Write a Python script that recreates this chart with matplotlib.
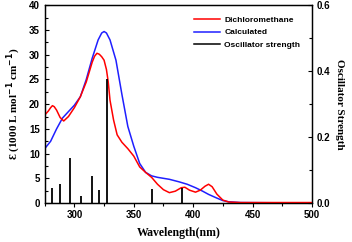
import matplotlib
matplotlib.use("Agg")
import matplotlib.pyplot as plt
from matplotlib.ticker import MultipleLocator

# --- data ---
dcm_wl = [275, 278, 280, 281.5, 283, 285, 288, 291, 295, 300, 305, 310, 315, 317, 319,
          321, 323, 325, 327, 328.5, 330, 333, 336, 340, 345, 350, 355, 360, 365, 370,
          375, 380, 385, 390, 393, 397, 402, 406, 410, 413, 416, 420, 425, 430, 440, 500]
dcm_eps = [17.8, 18.6, 19.3, 19.7, 19.5, 18.8, 17.3, 16.6, 17.5, 19.3, 21.5, 24.5, 28.5, 29.7, 30.3,
           30.1, 29.6, 28.9, 27.0, 24.5, 20.8, 16.8, 13.8, 12.3, 11.0, 9.5, 7.3, 6.2, 5.2, 3.8,
           2.7, 2.1, 2.4, 3.1, 3.2, 2.6, 2.2, 2.6, 3.4, 3.8, 3.3, 1.8, 0.6, 0.2, 0.1, 0.1]

calc_wl = [275, 280, 285, 290, 295, 300, 305, 310, 315, 320, 323, 325, 327, 330, 335, 340,
           345, 350, 355, 360, 365, 370, 380, 388, 395, 402, 408, 413, 420, 425, 430, 440, 500]
calc_eps = [11.0, 12.5, 15.0, 17.2, 18.5, 19.8, 21.5, 25.0, 29.3, 33.0, 34.4, 34.7, 34.4, 33.0, 28.9, 22.0,
            15.5, 11.5, 8.0, 6.2, 5.5, 5.2, 4.8, 4.3, 3.8, 3.1, 2.4, 1.75, 1.0, 0.5, 0.25, 0.1, 0.0]

osc_wl = [281, 288, 296, 305.5, 314.5, 321, 327.5, 365.5, 390.5]
osc_f = [0.046, 0.059, 0.136, 0.020, 0.081, 0.039, 0.377, 0.042, 0.046]

# --- figure ---
fig = plt.figure(figsize=(3.52, 2.42), dpi=100)
ax = fig.add_axes([0.127, 0.161, 0.759, 0.817])
ax2 = ax.twinx()

l1, = ax.plot(dcm_wl, dcm_eps, color="red", lw=1.1, label="Dichloromethane", zorder=3)
l2, = ax.plot(calc_wl, calc_eps, color="#1f1fff", lw=1.1, label="Calculated", zorder=2)
ax2.vlines(osc_wl, 0, osc_f, color="black", lw=1.3)
l3, = ax2.plot([], [], color="black", lw=1.1, label="Oscillator strength")

ax.set_xlim(275, 500)
ax.set_ylim(0, 40)
ax2.set_ylim(0, 0.6)

ax.xaxis.set_major_locator(MultipleLocator(50))
ax.xaxis.set_minor_locator(MultipleLocator(25))
ax.yaxis.set_major_locator(MultipleLocator(5))
ax.yaxis.set_minor_locator(MultipleLocator(2.5))
ax2.yaxis.set_minor_locator(MultipleLocator(0.1))
ax2.set_yticks([0.0, 0.2, 0.4, 0.6])
ax2.set_yticklabels(["0.0", "0.2", "0.4", "0.6"])

ax.tick_params(axis="x", which="both", direction="out", top=False)
ax.tick_params(axis="x", which="major", length=3, width=0.8, pad=2)
ax.tick_params(axis="x", which="minor", length=2, width=0.8)
ax.tick_params(axis="y", which="major", direction="in", length=3, width=0.8)
ax.tick_params(axis="y", which="minor", direction="in", length=2, width=0.8)
ax2.tick_params(axis="y", which="major", direction="in", length=3, width=0.8)
ax2.tick_params(axis="y", which="minor", direction="in", length=2, width=0.8)

for a in (ax, ax2):
    for lab in a.get_xticklabels() + a.get_yticklabels():
        lab.set_fontfamily("Liberation Sans")
        lab.set_fontweight("bold")
        lab.set_fontsize(7)
    for s in a.spines.values():
        s.set_linewidth(0.9)

ax.set_xlabel("Wavelength(nm)", fontfamily="Liberation Serif", fontweight="bold", fontsize=8.5, labelpad=5)
ax.set_ylabel("\u0190 (1000 L mol$^{\\mathbf{-1}}$ cm$^{\\mathbf{-1}}$)", fontfamily="Liberation Serif",
              fontweight="bold", fontsize=8, labelpad=4)
ax2.set_ylabel("Oscillator Strength", fontfamily="Liberation Serif", fontweight="bold",
               fontsize=8, rotation=270, labelpad=10)

leg = ax.legend(handles=[l1, l2, l3], loc="upper right", frameon=False,
                prop={"family": "Liberation Sans", "weight": "bold", "size": 6},
                handlelength=3.2, handletextpad=0.5, labelspacing=0.6,
                bbox_to_anchor=(0.985, 0.985))

fig.savefig("out.png", dpi=100)
